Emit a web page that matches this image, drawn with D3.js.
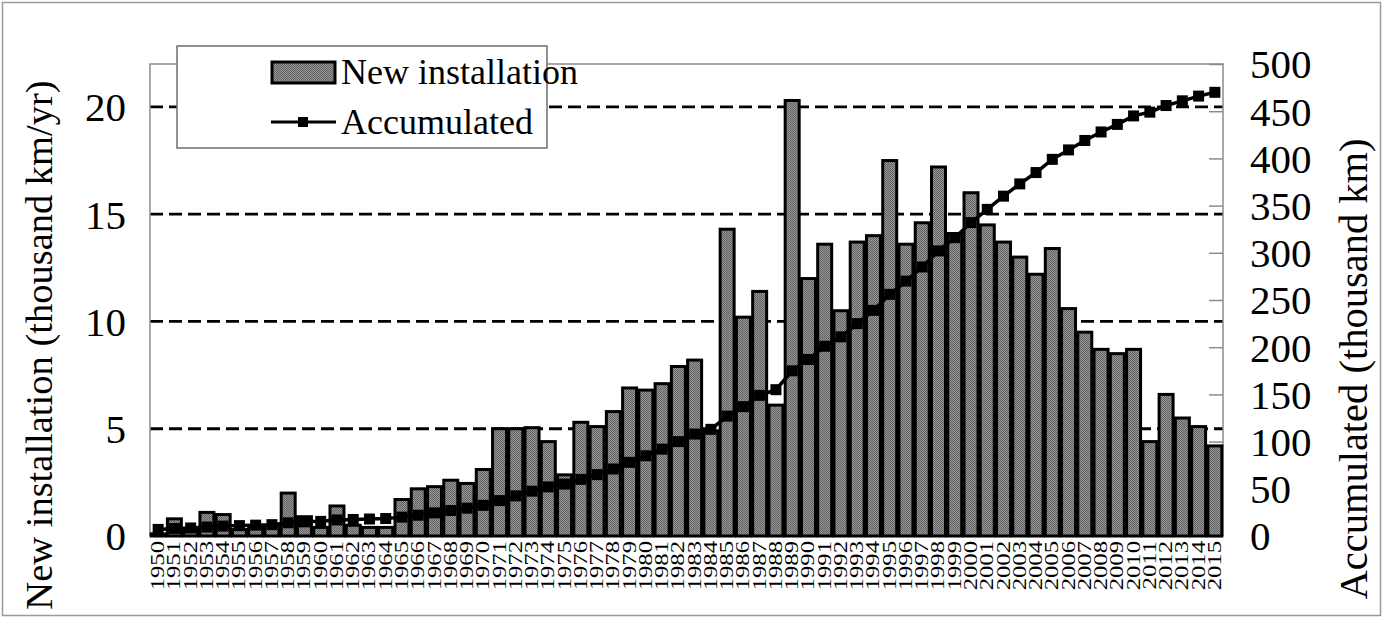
<!DOCTYPE html>
<html>
<head>
<meta charset="utf-8">
<script src="https://cdn.jsdelivr.net/npm/d3@7"></script>
<style>
  body { margin: 0; background: #fff; }
  text { font-family: "Liberation Serif", "Times New Roman", serif; fill: #000; }
</style>
</head>
<body>
<svg width="1384" height="619"></svg>
<script>
/* years on the x axis */
var years = d3.range(1950, 2016);

/* new installation per year (thousand km/yr) */
var newInstall = [
  0.1, 0.8, 0.3, 1.1, 1.0, 0.3, 0.4, 0.5, 2.0, 0.9,
  0.4, 1.4, 0.5, 0.4, 0.4, 1.7, 2.2, 2.3, 2.6, 2.45,
  3.1, 5.0, 5.0, 5.05, 4.4, 2.85, 5.3, 5.1, 5.8, 6.9,
  6.8, 7.1, 7.9, 8.2, 4.9, 14.3, 10.2, 11.4, 6.1, 20.3,
  12.0, 13.6, 10.5, 13.7, 14.0, 17.5, 13.6, 14.6, 17.2, 14.1,
  16.0, 14.5, 13.7, 13.0, 12.2, 13.4, 10.6, 9.5, 8.7, 8.5,
  8.7, 4.4, 6.6, 5.5, 5.1, 4.2
];

/* accumulated length (thousand km) */
var accumulated = [
  7, 8, 8.5, 9.5, 10.5, 11, 11.5, 12, 14, 15,
  15.5, 17, 17.5, 18, 18.5, 20, 22, 24.5, 27, 29.5,
  32.5, 37.5, 42.5, 47.5, 52, 55, 60, 65, 71, 78,
  85, 92, 100, 108, 113, 127, 137, 149, 155, 175,
  187, 201, 211, 225, 239, 256, 270, 285, 302, 316,
  332, 346, 360, 373, 385, 399, 409, 419, 428, 436,
  445, 449, 456, 461, 466, 470
];

var leftTicks = [0, 5, 10, 15, 20];
var rightTicks = [0, 50, 100, 150, 200, 250, 300, 350, 400, 450, 500];

var svg = d3.select("svg"),
    pLeft = 150, pRight = 1223, pTop = 64, pBottom = 536;

/* outer frame */
svg.append("rect")
    .attr("x", 2.5).attr("y", 2.5).attr("width", 1378).attr("height", 613)
    .attr("fill", "none").attr("stroke", "#9a9a9a").attr("stroke-width", 1.5);

/* dotted grey fill used by the bars */
var pat = svg.append("defs").append("pattern")
    .attr("id", "dots").attr("width", 2).attr("height", 2)
    .attr("patternUnits", "userSpaceOnUse");
pat.append("rect").attr("width", 2).attr("height", 2).attr("fill", "#969696");
pat.append("rect").attr("width", 1).attr("height", 1).attr("fill", "#626262");
pat.append("rect").attr("x", 1).attr("y", 1).attr("width", 1).attr("height", 1).attr("fill", "#626262");

var x = d3.scaleBand()
    .domain(years)
    .range([pLeft, pRight])
    .paddingInner(0.14)
    .paddingOuter(0.07);

var yL = d3.scaleLinear().domain([0, 22]).range([pBottom, pTop]);
var yR = d3.scaleLinear().domain([0, 500]).range([pBottom, pTop]);

/* dashed grid lines behind the bars */
svg.append("g").selectAll("line")
    .data(leftTicks.filter(function(d) { return d > 0; }))
  .enter().append("line")
    .attr("x1", pLeft).attr("x2", pRight)
    .attr("y1", function(d) { return yL(d); })
    .attr("y2", function(d) { return yL(d); })
    .attr("stroke", "#000").attr("stroke-width", 2.8)
    .attr("stroke-dasharray", "13,6");

/* plot frame: top and side lines are grey */
svg.append("path")
    .attr("d", "M" + pLeft + "," + pBottom + "V" + pTop + "H" + pRight + "V" + pBottom)
    .attr("fill", "none").attr("stroke", "#8c8c8c").attr("stroke-width", 1.5);

/* right axis: inside ticks, labels outside */
var axR = svg.append("g")
    .attr("transform", "translate(" + pRight + ",0)")
    .call(d3.axisLeft(yR).tickValues(rightTicks).tickSize(14).tickFormat(""));
axR.select(".domain").remove();
axR.selectAll("line").attr("stroke", "#8c8c8c").attr("stroke-width", 1.5);

svg.append("g").selectAll("text")
    .data(rightTicks)
  .enter().append("text")
    .attr("x", 1250)
    .attr("y", function(d) { return yR(d); })
    .attr("dy", "0.35em")
    .attr("font-size", 41)
    .text(function(d) { return d; });

svg.append("g").selectAll("text")
    .data(leftTicks)
  .enter().append("text")
    .attr("x", 126)
    .attr("y", function(d) { return yL(d); })
    .attr("dy", "0.35em")
    .attr("text-anchor", "end")
    .attr("font-size", 41)
    .text(function(d) { return d; });

/* bars */
svg.append("g").selectAll("rect")
    .data(years)
  .enter().append("rect")
    .attr("x", function(d) { return x(d); })
    .attr("width", x.bandwidth())
    .attr("y", function(d, i) { return yL(newInstall[i]); })
    .attr("height", function(d, i) { return pBottom - yL(newInstall[i]); })
    .attr("fill", "url(#dots)")
    .attr("stroke", "#000").attr("stroke-width", 3);

/* baseline */
svg.append("line")
    .attr("x1", pLeft).attr("x2", pRight).attr("y1", pBottom).attr("y2", pBottom)
    .attr("stroke", "#000").attr("stroke-width", 2);

/* accumulated line with square markers */
var line = d3.line()
    .x(function(d, i) { return x(years[i]) + x.bandwidth() / 2; })
    .y(function(d) { return yR(d); });

svg.append("path")
    .datum(accumulated)
    .attr("fill", "none").attr("stroke", "#000").attr("stroke-width", 3.5)
    .attr("d", line);

svg.append("g").selectAll("rect")
    .data(accumulated)
  .enter().append("rect")
    .attr("x", function(d, i) { return x(years[i]) + x.bandwidth() / 2 - 5.5; })
    .attr("y", function(d) { return yR(d) - 5.5; })
    .attr("width", 11).attr("height", 11)
    .attr("fill", "#000");

/* year labels, rotated */
svg.append("g").selectAll("text")
    .data(years)
  .enter().append("text")
    .attr("transform", function(d) {
      return "translate(" + (x(d) + x.bandwidth() / 2 + 6) + ",541) rotate(-90) scale(1.3,1)";
    })
    .attr("text-anchor", "end")
    .attr("font-size", 19)
    .text(function(d) { return d; });

/* axis titles */
svg.append("text")
    .attr("transform", "translate(52,345) rotate(-90)")
    .attr("text-anchor", "middle")
    .attr("font-size", 38.5)
    .text("New installation (thousand km/yr)");

svg.append("text")
    .attr("transform", "translate(1367,369) rotate(-90)")
    .attr("text-anchor", "middle")
    .attr("font-size", 40.5)
    .text("Accumulated (thousand km)");

/* legend */
var lg = svg.append("g");
lg.append("rect")
    .attr("x", 177).attr("y", 46).attr("width", 370).attr("height", 102)
    .attr("fill", "#fff").attr("stroke", "#6e6e6e").attr("stroke-width", 1.5);
lg.append("rect")
    .attr("x", 272).attr("y", 62).attr("width", 63).attr("height", 21)
    .attr("fill", "url(#dots)").attr("stroke", "#000").attr("stroke-width", 3);
lg.append("text").attr("x", 341).attr("y", 84).attr("font-size", 36).text("New installation");
lg.append("line")
    .attr("x1", 271).attr("x2", 336).attr("y1", 122).attr("y2", 122)
    .attr("stroke", "#000").attr("stroke-width", 3);
lg.append("rect")
    .attr("x", 298).attr("y", 117).attr("width", 10).attr("height", 10).attr("fill", "#000");
lg.append("text").attr("x", 341).attr("y", 134).attr("font-size", 36).text("Accumulated");
</script>
</body>
</html>
